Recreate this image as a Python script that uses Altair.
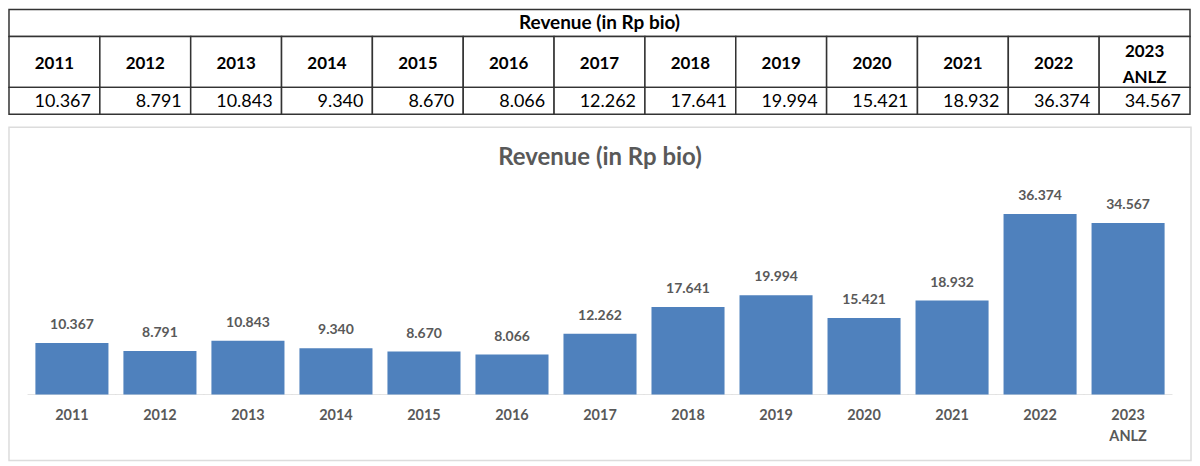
import altair as alt
import pandas as pd

years = ["2011", "2012", "2013", "2014", "2015", "2016", "2017",
         "2018", "2019", "2020", "2021", "2022", "2023 ANLZ"]
revenue = [10.367, 8.791, 10.843, 9.340, 8.670, 8.066, 12.262,
           17.641, 19.994, 15.421, 18.932, 36.374, 34.567]
title_text = "Revenue (in Rp bio)"

df = pd.DataFrame({"year": years, "revenue": revenue})
tdf = pd.DataFrame({"t": [title_text]})

FONT = "Lato"
TW = 1184
LINE = "#333333"
xband = alt.Scale(domain=years, paddingInner=0, paddingOuter=0)
xt = alt.X("year:N", scale=xband, axis=None)


def cells(base):
    return base.mark_rect(fill="white", stroke=LINE, strokeWidth=1.5).encode(x=xt)


title_row = alt.Chart(tdf).mark_text(
    font=FONT, fontSize=19, fontWeight="bold", color="black"
).encode(text="t:N").properties(
    width=TW, height=27,
    view=alt.ViewBackground(stroke=LINE, strokeWidth=1.5, fill="white"),
)

head_text = dict(font=FONT, fontSize=17, fontWeight="bold", color="black",
                 baseline="middle")
single = alt.Chart(df).transform_filter("indexof(datum.year, ' ') < 0")
double = alt.Chart(df).transform_filter("indexof(datum.year, ' ') >= 0").transform_calculate(
    l1="split(datum.year, ' ')[0]", l2="split(datum.year, ' ')[1]"
)
header_row = alt.layer(
    cells(alt.Chart(df)),
    single.mark_text(dy=2, **head_text).encode(x=xt, text="year:N"),
    double.mark_text(dy=-10, **head_text).encode(x=xt, text="l1:N"),
    double.mark_text(dy=16, **head_text).encode(x=xt, text="l2:N"),
).properties(width=TW, height=51, view=alt.ViewBackground(strokeWidth=0))

value_row = alt.layer(
    cells(alt.Chart(df)),
    alt.Chart(df).mark_text(
        font=FONT, fontSize=18, color="black", align="right", dx=-9,
        baseline="middle", dy=1,
    ).encode(
        x=alt.X("year:N", scale=xband, axis=None, bandPosition=1),
        text=alt.Text("revenue:Q", format=".3f"),
    ),
).properties(width=TW, height=27, view=alt.ViewBackground(strokeWidth=0))

table = alt.vconcat(title_row, header_row, value_row, spacing=0, bounds="flush")

CW, CH = 1185, 334
GRAY = "#595959"
xs = alt.Scale(domain=years, paddingInner=0.17, paddingOuter=0.3)
ys = alt.Scale(domain=[-13.25, 53.82], nice=False, zero=False)
xc = alt.X(
    "year:N", scale=xs, title=None,
    axis=alt.Axis(
        orient="bottom", offset=-66, domain=False, ticks=False,
        labelAngle=0, labelFont=FONT, labelFontSize=14.5, labelFontWeight="bold",
        labelColor=GRAY, labelPadding=14, labelLineHeight=21,
        labelExpr="split(datum.label, ' ')",
    ),
)

base = alt.Chart(df)
baseline = base.mark_tick(orient="horizontal", size=89, thickness=1, color="#d9d9d9").encode(
    x=xc, y=alt.Y(datum=0, scale=ys, axis=None)
)
bars = base.mark_bar(color="#4f81bd").encode(
    x=xc, y=alt.Y("revenue:Q", scale=ys, axis=None), y2=alt.datum(0)
)
labels = base.mark_text(
    font=FONT, fontSize=14, fontWeight="bold", color=GRAY, baseline="middle", dy=-18
).encode(x=xc, y=alt.Y("revenue:Q", scale=ys, axis=None),
         text=alt.Text("revenue:Q", format=".3f"))
chart_title = alt.Chart(tdf).mark_text(
    font=FONT, fontSize=24, fontWeight="bold", color=GRAY, baseline="middle"
).encode(text="t:N", x=alt.value(CW / 2), y=alt.value(31))

chart_panel = alt.layer(baseline, bars, labels, chart_title).properties(
    width=CW, height=CH,
    view=alt.ViewBackground(stroke="#dcdcdc", strokeWidth=1.5, fill="white"),
)

chart = alt.vconcat(table, chart_panel, spacing=11).properties(
    padding=0, background="white"
)

chart.save("out.html", embed_options={"renderer": "svg", "actions": False})
